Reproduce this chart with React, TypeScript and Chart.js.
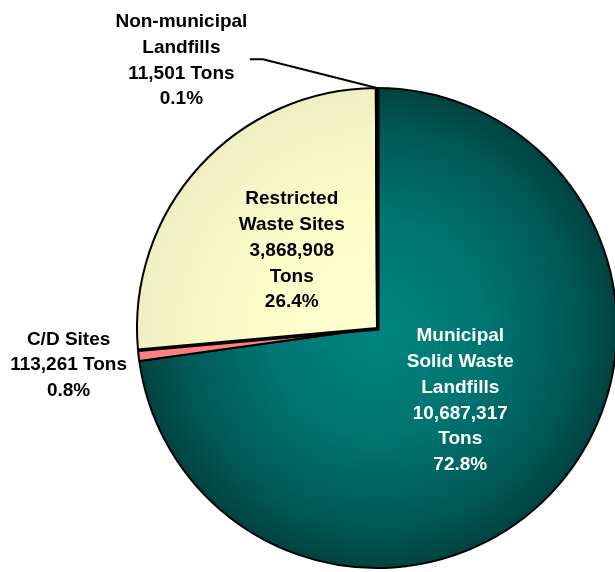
import React, { useEffect, useRef } from "react";
import { Chart, registerables } from "chart.js";

Chart.register(...registerables);

const categories = [
  "Municipal Solid Waste Landfills",
  "C/D Sites",
  "Restricted Waste Sites",
  "Non-municipal Landfills",
];
const tons = [10687317, 113261, 3868908, 11501];
const percentLabels = ["72.8%", "0.8%", "26.4%", "0.1%"];
const labelLines = [
  ["Municipal", "Solid Waste", "Landfills", "10,687,317", "Tons", "72.8%"],
  ["C/D Sites", "113,261 Tons", "0.8%"],
  ["Restricted", "Waste Sites", "3,868,908", "Tons", "26.4%"],
  ["Non-municipal", "Landfills", "11,501 Tons", "0.1%"],
];

const FONT = 'bold 19px "Liberation Sans", Arial, sans-serif';
const LINE_H = 25.8;

const labelPlugin = {
  id: "pieLabels",
  afterDatasetsDraw(chart: any) {
    const ctx = chart.ctx;
    const meta = chart.getDatasetMeta(0);
    const cx = meta.data[0].x;
    const cy = meta.data[0].y;
    const R = meta.data[0].outerRadius;
    ctx.save();
    // shadow edge under the restricted slice
    const rs = meta.data[2];
    ctx.strokeStyle = "#000000";
    ctx.lineWidth = 2;
    ctx.beginPath();
    ctx.moveTo(cx + Math.cos(rs.startAngle) * R + 1, cy + Math.sin(rs.startAngle) * R + 1.5);
    ctx.lineTo(cx + 1.5, cy + 1.5);
    ctx.lineTo(cx + 1.5, cy - R + 2);
    ctx.stroke();

    ctx.font = FONT;
    ctx.textAlign = "center";
    ctx.textBaseline = "middle";
    const drawBlock = (lines: string[], x: number, y: number, color: string) => {
      ctx.fillStyle = color;
      const n = lines.length;
      lines.forEach((l, i) => {
        ctx.fillText(l, x, y + (i - (n - 1) / 2) * LINE_H);
      });
    };
    const inside = (i: number, frac: number, color: string) => {
      const a = meta.data[i];
      const mid = (a.startAngle + a.endAngle) / 2;
      drawBlock(labelLines[i], cx + Math.cos(mid) * R * frac, cy + Math.sin(mid) * R * frac, color);
    };
    inside(0, 0.46, "#ffffff");
    inside(2, 0.48, "#000000");
    drawBlock(labelLines[1], cx - R * 1.285, cy + R * 0.155, "#000000");
    drawBlock(labelLines[3], cx - R * 0.815, cy - R * 1.115, "#000000");
    const nm = meta.data[3];
    const ea = nm.endAngle;
    ctx.strokeStyle = "#000000";
    ctx.lineWidth = 2;
    ctx.beginPath();
    ctx.moveTo(cx - R * 0.53, cy - R * 1.12);
    ctx.lineTo(cx - R * 0.475, cy - R * 1.12);
    ctx.lineTo(cx + Math.cos(ea) * R, cy + Math.sin(ea) * R);
    ctx.stroke();
    ctx.restore();
  },
};

export default function App() {
  const ref = useRef<HTMLCanvasElement | null>(null);
  useEffect(() => {
    if (!ref.current) return;
    const centerOf = (c: any) => {
      const a = c.chartArea;
      return { x: (a.left + a.right) / 2, y: (a.top + a.bottom) / 2, r: Math.min(a.width, a.height) / 2 };
    };
    const chart = new Chart(ref.current, {
      type: "pie",
      data: {
        labels: categories,
        datasets: [
          {
            data: tons,
            backgroundColor: (ctx: any) => {
              const c = ctx.chart;
              const i = ctx.dataIndex;
              if (!c.chartArea) return ["#007070", "#ff8080", "#ffffcc", "#66aaaa"][i];
              const { x, y, r } = centerOf(c);
              if (i === 0) {
                const g = c.ctx.createRadialGradient(x, y, 0, x, y, r);
                g.addColorStop(0, "#008580");
                g.addColorStop(0.45, "#007571");
                g.addColorStop(0.8, "#005a57");
                g.addColorStop(1, "#004341");
                return g;
              }
              if (i === 2) {
                const g = c.ctx.createRadialGradient(x, y, 0, x, y, r);
                g.addColorStop(0, "#ffffd0");
                g.addColorStop(0.5, "#fdfdca");
                g.addColorStop(1, "#efefc2");
                return g;
              }
              if (i === 1) return "#ff8080";
              return "#669999";
            },
            borderColor: "#000000",
            borderWidth: 2,
            hoverOffset: 0,
            offset: [0, 0, 0, 0],
          },
        ],
      },
      options: {
        responsive: false,
        animation: false,
        layout: { padding: { left: 136, top: 87, right: 22, bottom: 3 } },
        plugins: {
          legend: { display: false },
          tooltip: { enabled: false },
        },
        events: [],
      },
      plugins: [labelPlugin],
    });
    return () => chart.destroy();
  }, []);
  return (
    <div style={{ position: "absolute", left: 0, top: 0, width: 615, height: 572, overflow: "hidden", background: "#fff" }}>
      <canvas ref={ref} width={640} height={572} style={{ display: "block" }} />
    </div>
  );
}
